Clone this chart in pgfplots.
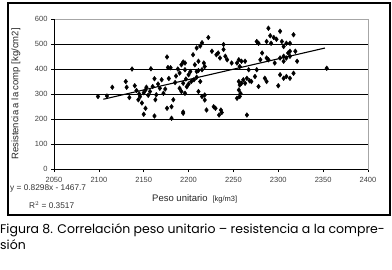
\documentclass[border=0pt]{standalone}
\usepackage{fontspec}
\setmainfont{Liberation Sans}
\newfontfamily\capfont{Poppins}
\usepackage{pgfplots}
\pgfplotsset{compat=1.18}
\begin{document}
\begin{tikzpicture}
\fill[white] (0,0) rectangle (392pt,-269pt);
\begin{axis}[
  scale only axis, width=314pt, height=150pt,
  at={(54pt,-169pt)}, anchor=south west,
  xmin=2050, xmax=2400, ymin=0, ymax=600,
  xtick={2050,2100,...,2400}, ytick={0,100,...,600},
  xtick pos=bottom, ytick pos=left, tick align=outside,
  major tick length=3pt, tick style={black, line width=0.5pt},
  axis line style={gray!70, line width=0.6pt},
  ymajorgrids, grid style={black, line width=0.7pt},
  x tick label style={font=\fontsize{7.5}{8}\selectfont, text=black!75, yshift=-2pt},
  y tick label style={font=\fontsize{7.5}{8}\selectfont, text=black!75},
  /pgf/number format/assume math mode=true,
  /pgf/number format/set thousands separator={},
  clip=false,
]
\draw[black, line width=0.8pt] (axis cs:2050,0) -- (axis cs:2400,0);
\draw[black, line width=0.6pt] (axis cs:2050,0) -- (axis cs:2050,600);
\addplot[only marks, mark=diamond*, mark size=2.4pt, mark options={black}] coordinates {
(2099,290)(2109,292)(2115,327)(2130,350)(2131,327)(2137,400)(2134,286)(2140,333)
(2142,314)(2144,277)(2146,290)(2148,264)(2158,401)(2152,316)(2153,327)(2150,219)
(2152,243)(2162,212)(2163,277)(2164,297)(2162,361)(2168,323)(2172,303)(2170,357)
(2176,243)(2181,249)(2177,406)(2176,448)(2181,203)(2183,277)(2180,405)(2188,400)
(2185,346)(2190,323)(2194,223)(2192,417)(2194,428)(2196,397)(2200,377)(2202,390)
(2205,457)(2209,484)(2203,350)(2206,357)(2209,367)(2211,394)
(2145,300)(2150,305)(2155,295)(2157,310)(2160,330)(2166,340)(2174,320)(2178,362)
(2186,372)(2190,384)(2197,360)(2200,340)
(2196,424)(2194,343)(2198,329)(2192,310)(2196,303)(2194,228)
(2207,417)(2211,431)(2213,492)(2215,505)(2217,424)(2218,410)(2215,397)(2209,390)
(2213,350)(2211,310)(2218,296)(2218,276)(2215,290)(2222,526)(2220,236)(2226,471)
(2228,249)(2230,243)(2231,457)(2233,464)(2235,444)(2236,236)(2234,216)(2237,226)
(2239,498)(2239,478)(2241,451)(2243,437)(2248,424)(2254,424)(2256,437)(2257,410)
(2259,431)(2263,431)(2267,397)(2256,350)(2257,336)(2259,343)(2261,357)(2256,316)
(2257,290)(2254,283)(2258,302)(2265,216)(2263,343)(2265,363)(2268,353)(2270,350)
(2274,370)(2276,397)(2278,330)(2280,437)(2282,464)(2285,363)(2287,350)(2289,437)
(2289,563)(2291,533)(2287,510)(2292,503)(2278,503)(2276,510)(2295,526)(2298,519)
(2302,551)(2304,510)(2306,490)(2309,503)(2313,503)(2317,537)(2311,464)(2313,471)
(2302,444)(2306,451)(2309,444)(2313,451)(2319,471)(2321,431)(2306,431)(2302,377)
(2306,363)(2309,370)(2313,363)(2317,383)(2300,333)(2296,424)(2287,444)(2354,403)
};
\addplot[black, line width=1.1pt] coordinates {(2105,279.0)(2352,483.9)};
\end{axis}
\draw[black, line width=1.2pt] (8pt,-3pt) -- (390pt,-3pt) -- (390pt,-215pt) -- (8pt,-215pt) -- cycle;
\node[rotate=90, anchor=center, font=\fontsize{9.5}{10}\selectfont, text=black!85] at (16pt,-94pt) {Resistencia a la comp [kg/cm2]};
\node[anchor=west, inner sep=0pt, font=\fontsize{9.5}{10}\selectfont, text=black!85] at (152pt,-199pt) {Peso unitario\hspace{5pt}{\fontsize{7.5}{8}\selectfont [kg/m3]}};
\node[anchor=west, inner sep=0pt, font=\fontsize{8.3}{9}\selectfont, text=black!80] at (10pt,-188pt) {y = 0.8298x - 1467.7};
\node[anchor=west, inner sep=0pt, font=\fontsize{8.3}{9}\selectfont, text=black!80] at (29pt,-205pt) {R$^2$ = 0.3517};
\node[anchor=base west, inner sep=0pt, font=\capfont\fontsize{12.5}{13}\selectfont] at (0pt,-233pt) {Figura 8. Correlación peso unitario – resistencia a la compre-};
\node[anchor=base west, inner sep=0pt, font=\capfont\fontsize{12.5}{13}\selectfont] at (0pt,-249pt) {sión};
\end{tikzpicture}
\end{document}
